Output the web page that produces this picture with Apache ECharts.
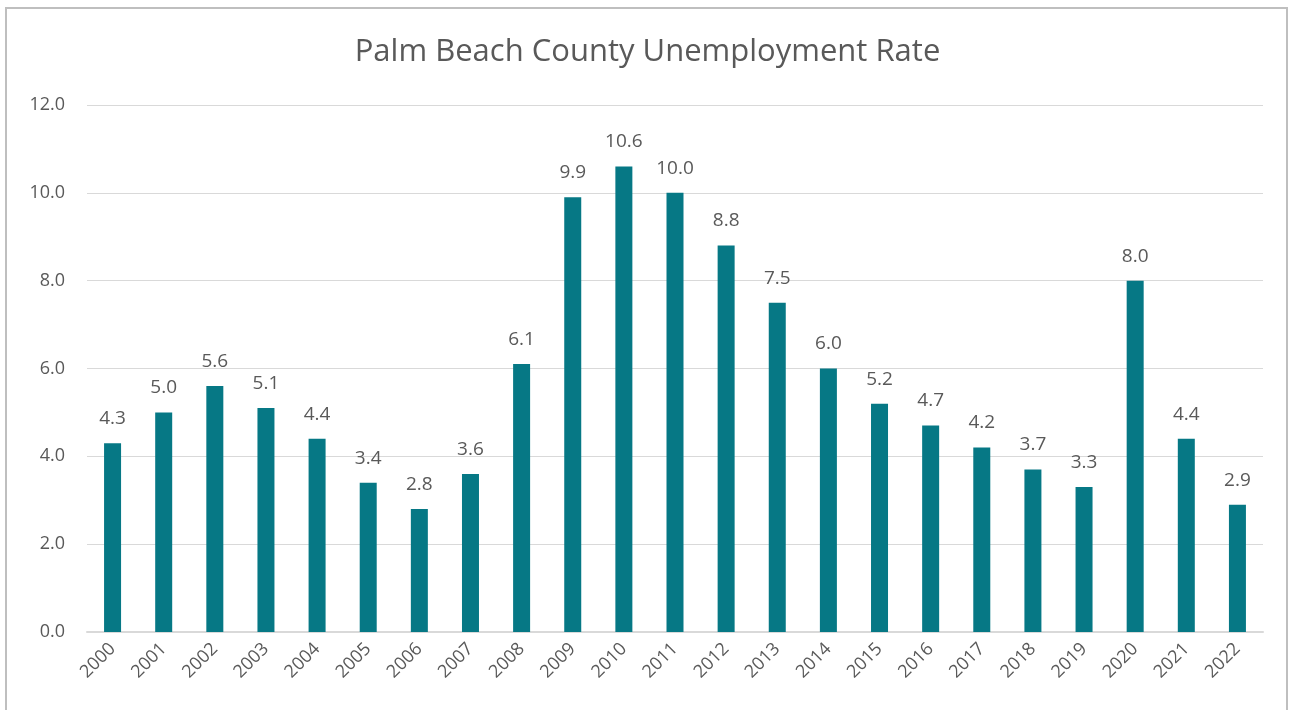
<!DOCTYPE html>
<html>
<head>
<meta charset="utf-8">
<script src="https://cdn.jsdelivr.net/npm/echarts@6/dist/echarts.min.js"></script>
<style>
  html, body { margin: 0; padding: 0; background: #fff; }
  #chart { width: 1295px; height: 710px; }
</style>
</head>
<body>
<div id="chart"></div>
<script>
// data
const years = ["2000", "2001", "2002", "2003", "2004", "2005", "2006", "2007", "2008", "2009", "2010", "2011",
  "2012", "2013", "2014", "2015", "2016", "2017", "2018", "2019", "2020", "2021", "2022"];
const rates = [4.3, 5.0, 5.6, 5.1, 4.4, 3.4, 2.8, 3.6, 6.1, 9.9, 10.6, 10.0,
  8.8, 7.5, 6.0, 5.2, 4.7, 4.2, 3.7, 3.3, 8.0, 4.4, 2.9];

const textColor = "#595959";
const font = "'Open Sans', 'Noto Sans', sans-serif";

const myChart = echarts.init(document.getElementById("chart"));
myChart.setOption({
  backgroundColor: "#fff",
  animation: false,
  title: {
    text: "Palm Beach County Unemployment Rate",
    left: "center",
    top: 32,
    textStyle: { color: textColor, fontSize: 31, fontWeight: "normal", fontFamily: font },
  },
  // outer chart frame
  graphic: [
    {
      type: "rect",
      shape: { x: 6, y: 8, width: 1281, height: 730 },
      style: { fill: null, stroke: "#bfbfbf", lineWidth: 2 },
      silent: true,
    },
  ],
  grid: { left: 87, right: 32, top: 105, bottom: 78 },
  xAxis: {
    type: "category",
    data: years,
    axisLine: { show: true, lineStyle: { color: "#d9d9d9", width: 2 } },
    axisTick: { show: false },
    axisLabel: {
      interval: 0,
      rotate: 45,
      margin: 14,
      color: textColor,
      fontSize: 18,
      fontFamily: font,
    },
  },
  yAxis: {
    type: "value",
    min: 0,
    max: 12,
    interval: 2,
    axisLine: { show: false },
    axisTick: { show: false },
    splitLine: { lineStyle: { color: "#d9d9d9", width: 1 } },
    axisLabel: {
      margin: 22,
      color: textColor,
      fontSize: 18,
      fontFamily: font,
      formatter: (v) => v.toFixed(1),
    },
  },
  series: [
    {
      type: "bar",
      data: rates,
      barWidth: 17,
      itemStyle: { color: "#067885" },
      label: {
        show: true,
        position: "top",
        distance: 15,
        color: textColor,
        fontSize: 19,
        fontFamily: font,
        formatter: (p) => p.value.toFixed(1),
      },
    },
  ],
});
</script>
</body>
</html>
